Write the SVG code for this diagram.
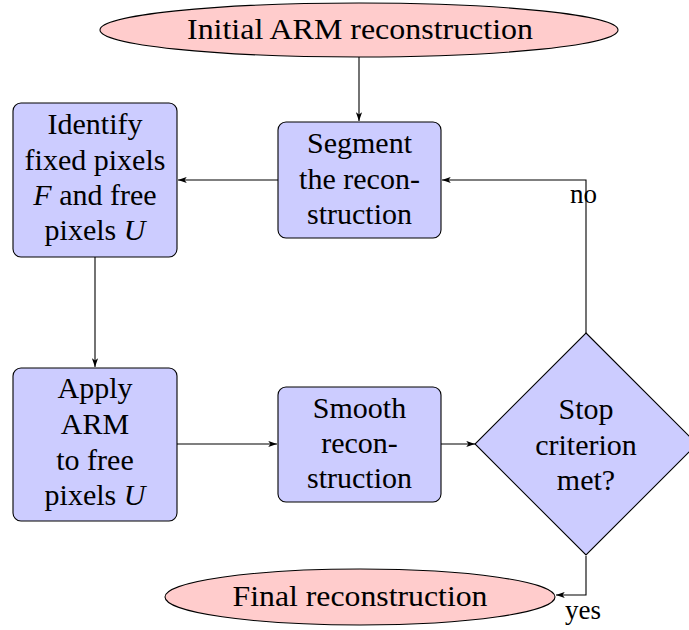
<svg xmlns="http://www.w3.org/2000/svg" width="689" height="630" viewBox="0 0 689 630">
<defs>
<style>
.box{fill:#ccccff;stroke:#000;stroke-width:1.1}
.term{fill:#ffcccc;stroke:#000;stroke-width:1.1}
.c{fill:none;stroke:#000;stroke-width:1.1;marker-end:url(#ah)}
</style>
<marker id="ah" viewBox="0 0 10 8" refX="10" refY="4" markerWidth="9" markerHeight="7" markerUnits="userSpaceOnUse" orient="auto">
<path d="M0,0.5 L10,4 L0,7.5 L2.5,4 Z" fill="#000"/>
</marker>
</defs>
<rect width="689" height="630" fill="#fff"/>
<g id="connectors">
<path class="c" d="M359,57 L359,121"/>
<path class="c" d="M278,180 L178,180"/>
<path class="c" d="M95,257 L95,367"/>
<path class="c" d="M177,444 L277,444"/>
<path class="c" d="M441,444 L475,444"/>
<path class="c" d="M586,333 L586,180 L442,180"/>
<path class="c" d="M586,556 L586,595 L556,595"/>
<g font-family="Liberation Serif, serif" font-size="27" fill="#000">
<text x="570" y="203">no</text>
<text x="565" y="619">yes</text>
</g>
</g>
<g id="start" font-family="Liberation Serif, serif" font-size="30" text-anchor="middle">
<ellipse class="term" cx="359" cy="30" rx="259" ry="27"/>
<text x="360" y="39" textLength="346" lengthAdjust="spacingAndGlyphs">Initial ARM reconstruction</text>
</g>
<g id="segment" font-family="Liberation Serif, serif" font-size="30" text-anchor="middle">
<rect class="box" x="278" y="122" width="163" height="116" rx="8"/>
<text x="359.5" y="153">Segment</text>
<text x="359.5" y="189">the recon-</text>
<text x="359.5" y="224">struction</text>
</g>
<g id="identify" font-family="Liberation Serif, serif" font-size="30" text-anchor="middle">
<rect class="box" x="13" y="103" width="164" height="154" rx="8"/>
<text x="95" y="134">Identify</text>
<text x="95" y="170">fixed pixels</text>
<text x="95" y="205"><tspan font-style="italic">F</tspan> and free</text>
<text x="95" y="240">pixels <tspan font-style="italic">U</tspan></text>
</g>
<g id="apply" font-family="Liberation Serif, serif" font-size="30" text-anchor="middle">
<rect class="box" x="13" y="368" width="164" height="153" rx="8"/>
<text x="95" y="398">Apply</text>
<text x="95" y="434">ARM</text>
<text x="95" y="470">to free</text>
<text x="95" y="505">pixels <tspan font-style="italic">U</tspan></text>
</g>
<g id="smooth" font-family="Liberation Serif, serif" font-size="30" text-anchor="middle">
<rect class="box" x="278" y="387" width="163" height="115" rx="8"/>
<text x="359.5" y="418">Smooth</text>
<text x="359.5" y="453">recon-</text>
<text x="359.5" y="488">struction</text>
</g>
<g id="stop" font-family="Liberation Serif, serif" font-size="30" text-anchor="middle">
<polygon class="box" points="586,333 697,444 586,555 475,444"/>
<text x="586" y="419">Stop</text>
<text x="586" y="455">criterion</text>
<text x="586" y="490">met?</text>
</g>
<g id="final" font-family="Liberation Serif, serif" font-size="30" text-anchor="middle">
<ellipse class="term" cx="360" cy="597" rx="195" ry="28"/>
<text x="360" y="606" textLength="255" lengthAdjust="spacingAndGlyphs">Final reconstruction</text>
</g>
</svg>
